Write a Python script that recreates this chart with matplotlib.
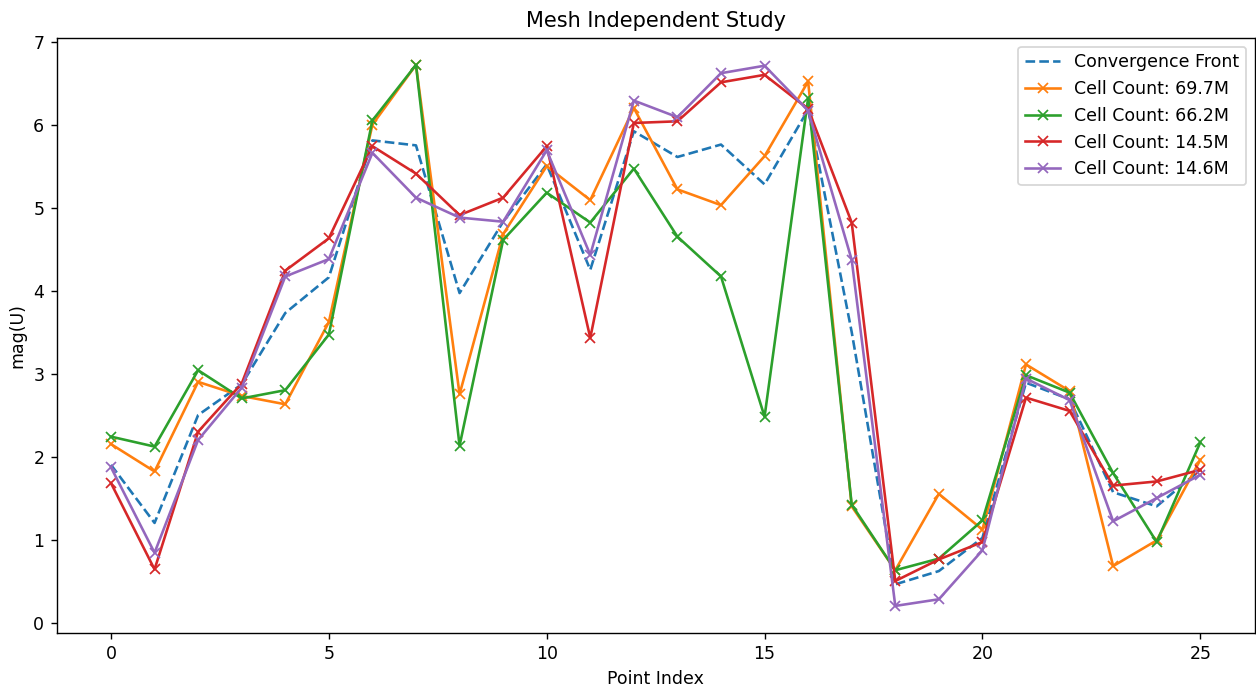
import numpy as np
import matplotlib.pyplot as plt

# valeurs
point_index = np.arange(26)

convergence_front = [1.90, 1.20, 2.50, 2.87, 3.73, 4.16, 5.81, 5.75, 3.97, 4.83,
                     5.52, 4.25, 5.92, 5.61, 5.76, 5.28, 6.18, 3.50, 0.46, 0.62,
                     1.02, 2.89, 2.69, 1.57, 1.40, 1.84]

cells_69_7 = [2.15, 1.82, 2.90, 2.73, 2.63, 3.62, 6.00, 6.72, 2.75, 4.68,
              5.50, 5.09, 6.20, 5.22, 5.03, 5.62, 6.52, 1.40, 0.63, 1.55,
              1.12, 3.11, 2.79, 0.68, 0.99, 1.96]

cells_66_2 = [2.24, 2.12, 3.04, 2.70, 2.80, 3.47, 6.05, 6.72, 2.13, 4.61,
              5.18, 4.82, 5.47, 4.65, 4.17, 2.48, 6.32, 1.42, 0.63, 0.77,
              1.23, 2.98, 2.77, 1.80, 0.97, 2.17]

cells_14_5 = [1.68, 0.64, 2.30, 2.88, 4.24, 4.63, 5.74, 5.41, 4.91, 5.12,
              5.74, 3.43, 6.02, 6.04, 6.51, 6.60, 6.19, 4.82, 0.50, 0.76,
              0.97, 2.71, 2.55, 1.65, 1.70, 1.84]

cells_14_6 = [1.87, 0.84, 2.20, 2.83, 4.17, 4.38, 5.66, 5.12, 4.88, 4.83,
              5.69, 4.43, 6.29, 6.09, 6.62, 6.71, 6.17, 4.37, 0.20, 0.28,
              0.87, 2.94, 2.68, 1.22, 1.50, 1.78]

series = [
    ('Cell Count: 69.7M', cells_69_7),
    ('Cell Count: 66.2M', cells_66_2),
    ('Cell Count: 14.5M', cells_14_5),
    ('Cell Count: 14.6M', cells_14_6),
]

fig, ax = plt.subplots(figsize=(10.048, 5.504), dpi=125)

ax.plot(point_index, convergence_front, linestyle='--', label='Convergence Front')
for label, values in series:
    ax.plot(point_index, values, marker='x', label=label)

ax.set_title('Mesh Independent Study')
ax.set_xlabel('Point Index')
ax.set_ylabel('mag(U)')
ax.legend(loc='upper right')

plt.subplots_adjust(left=0.045, right=0.999, top=0.945, bottom=0.08)
plt.savefig('out.png', dpi=125)
plt.close()
